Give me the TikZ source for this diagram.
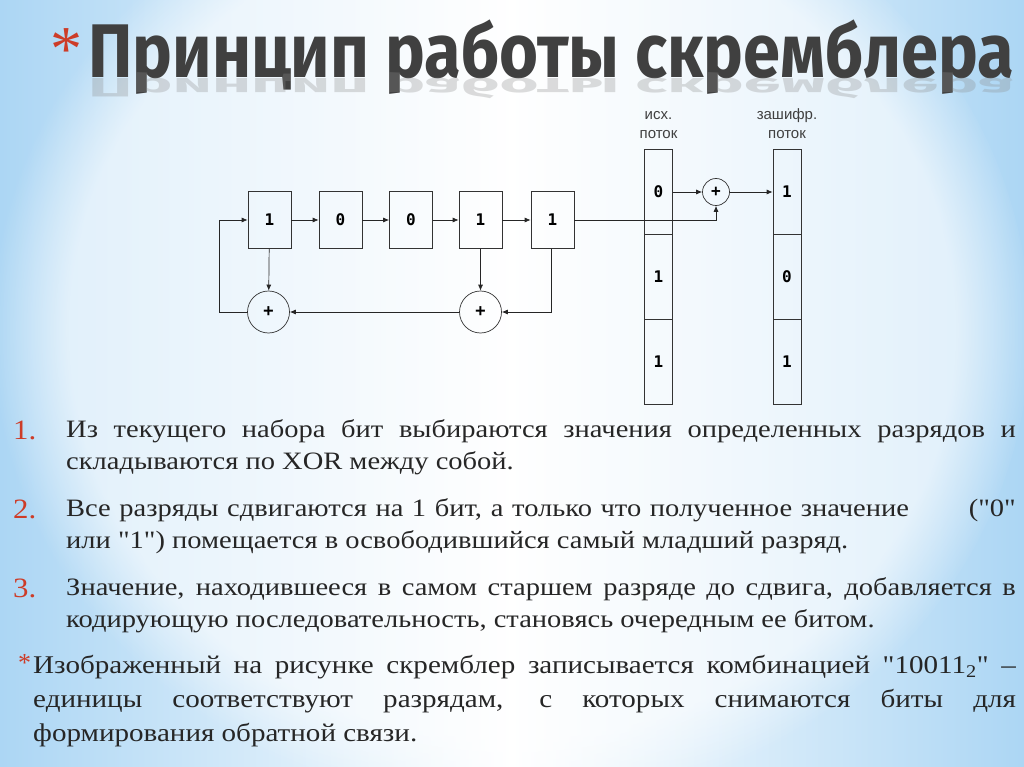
\documentclass[tikz,border=0pt]{standalone}
\usepackage{fontspec}
\setmainfont{Liberation Serif}
\newfontfamily\titlefont{Fira Sans}
\newfontfamily\monof{DejaVu Sans Mono}
\newfontfamily\labf{Liberation Sans}
\usetikzlibrary{arrows.meta,fadings}
\definecolor{bgblue}{RGB}{172,214,244}
\definecolor{numred}{RGB}{205,60,40}
\begin{document}
\begin{tikzpicture}[x=1pt,y=-1pt,
  reg/.style={draw=black!80,line width=0.7pt,minimum width=43pt,minimum height=57pt,inner sep=0pt,font=\monof\bfseries\fontsize{16}{16}\selectfont},
  xorc/.style={draw=black!80,circle,line width=0.7pt,minimum size=42pt,inner sep=0pt,font=\monof\bfseries\fontsize{17}{17}\selectfont},
  cell/.style={draw=black!80,line width=0.7pt,minimum width=28pt,minimum height=85pt,inner sep=0pt,font=\monof\bfseries\fontsize{16}{16}\selectfont},
  wire/.style={line width=0.7pt,draw=black!85},
  arr/.style={wire,-{Latex[length=6pt,width=5pt]}},
  lab/.style={font=\labf\fontsize{15}{19}\selectfont,text=black!75,align=center},
  para/.style={anchor=north west,text width=833pt,xscale=1.14,align=justify,inner sep=0pt,font=\fontsize{25}{32.5}\selectfont,text=black!85},
  num/.style={anchor=north west,inner sep=0pt,xscale=1.1,font=\fontsize{28}{33}\selectfont,text=numred}]
\useasboundingbox (0,0) rectangle (1024,767);
\shade[left color=bgblue,right color=bgblue,middle color=white] (0,0) rectangle (1024,767);
\fill[white,path fading=circle with fuzzy edge 15 percent,opacity=0.6] (512,330) ellipse (520 and 480);
% title
\node[anchor=west,inner sep=0pt,text=numred,font=\fontsize{64}{64}\selectfont] (ast) at (50,50) {*};
\node[anchor=base west,inner sep=0pt,text=black!75,font=\titlefont\bfseries\fontsize{76}{76}\selectfont,xscale=0.88] (title) at (88,78) {Принцип работы скремблера};
\node[anchor=base west,inner sep=0pt,text=black!45,opacity=0.3,font=\titlefont\bfseries\fontsize{76}{76}\selectfont,xscale=0.88,yscale=-0.35] (refl) at (88,79) {Принцип работы скремблера};
% registers
\node[reg] (r1) at (269.5,220) {1};
\node[reg] (r2) at (340.5,220) {0};
\node[reg] (r3) at (411,220) {0};
\node[reg] (r4) at (480.5,220) {1};
\node[reg] (r5) at (552.5,220) {1};
\node[xorc] (x1) at (268.5,312) {+};
\node[xorc] (x2) at (480.5,312) {+};
\foreach \a/\b in {r1/r2,r2/r3,r3/r4,r4/r5} \draw[arr] (\a) -- (\b);
\draw[arr] (r1) -- (x1);
\draw[arr] (r4) -- (x2);
\draw[arr] (x2) -- (x1);
\coordinate (c5) at (551,312);
\draw[arr] (r5.south -| c5) -- (c5) -- (x2);
\coordinate (lf) at (219,312);
\draw[arr] (x1.west) -- (lf) -- (lf |- r1) -- (r1.west);
% streams
\node[cell] (a1) at (658.5,191.5) {0};
\node[cell] (a2) at (658.5,276.5) {1};
\node[cell] (a3) at (658.5,361.5) {1};
\node[cell] (b1) at (787,191.5) {1};
\node[cell] (b2) at (787,276.5) {0};
\node[cell] (b3) at (787,361.5) {1};
\node[lab,anchor=south] (la) at (658.5,142) {исх.\\поток};
\node[lab,anchor=south] (lb) at (787,142) {зашифр.\\поток};
\node[draw=black!80,circle,line width=0.7pt,minimum size=27pt,inner sep=0pt,font=\monof\bfseries\fontsize{16}{16}\selectfont] (x3) at (716,192) {+};
\coordinate (up) at (716,220);
\draw[arr] (r5.east) -- (up) -- (x3.south);
\draw[arr] (a1.east |- x3) -- (x3.west);
\draw[arr] (x3.east) -- (b1.west |- x3);
% text
\node[num] (n1) at (13,421) {1.};
\node[para] (p1) at (66,419) {Из текущего набора бит выбираются значения определенных разрядов и\linebreak складываются по XOR между собой.};
\node[num] (n2) at (13,500) {2.};
\node[para] (p2) at (66,498) {Все разряды сдвигаются на 1 бит, а только что полученное значение \hspace{1.5em} (\textquotedbl0\textquotedbl\linebreak или \textquotedbl1\textquotedbl) помещается в освободившийся самый младший разряд.};
\node[num] (n3) at (13,579) {3.};
\node[para] (p3) at (66,577) {Значение, находившееся в самом старшем разряде до сдвига, добавляется в\linebreak кодирующую последовательность, становясь очередным ее битом.};
\node[anchor=north west,inner sep=0pt,text=numred,font=\fontsize{26}{26}\selectfont] (n4) at (18,654) {*};
\node[para,text width=862pt,font=\fontsize{25.5}{34}\selectfont] (p4) at (33,655) {Изображенный на рисунке скремблер записывается комбинацией \textquotedbl10011\textsubscript{2}\textquotedbl{} –\linebreak единицы соответствуют разрядам, с которых снимаются биты для\linebreak формирования обратной связи.};
\end{tikzpicture}
\end{document}
